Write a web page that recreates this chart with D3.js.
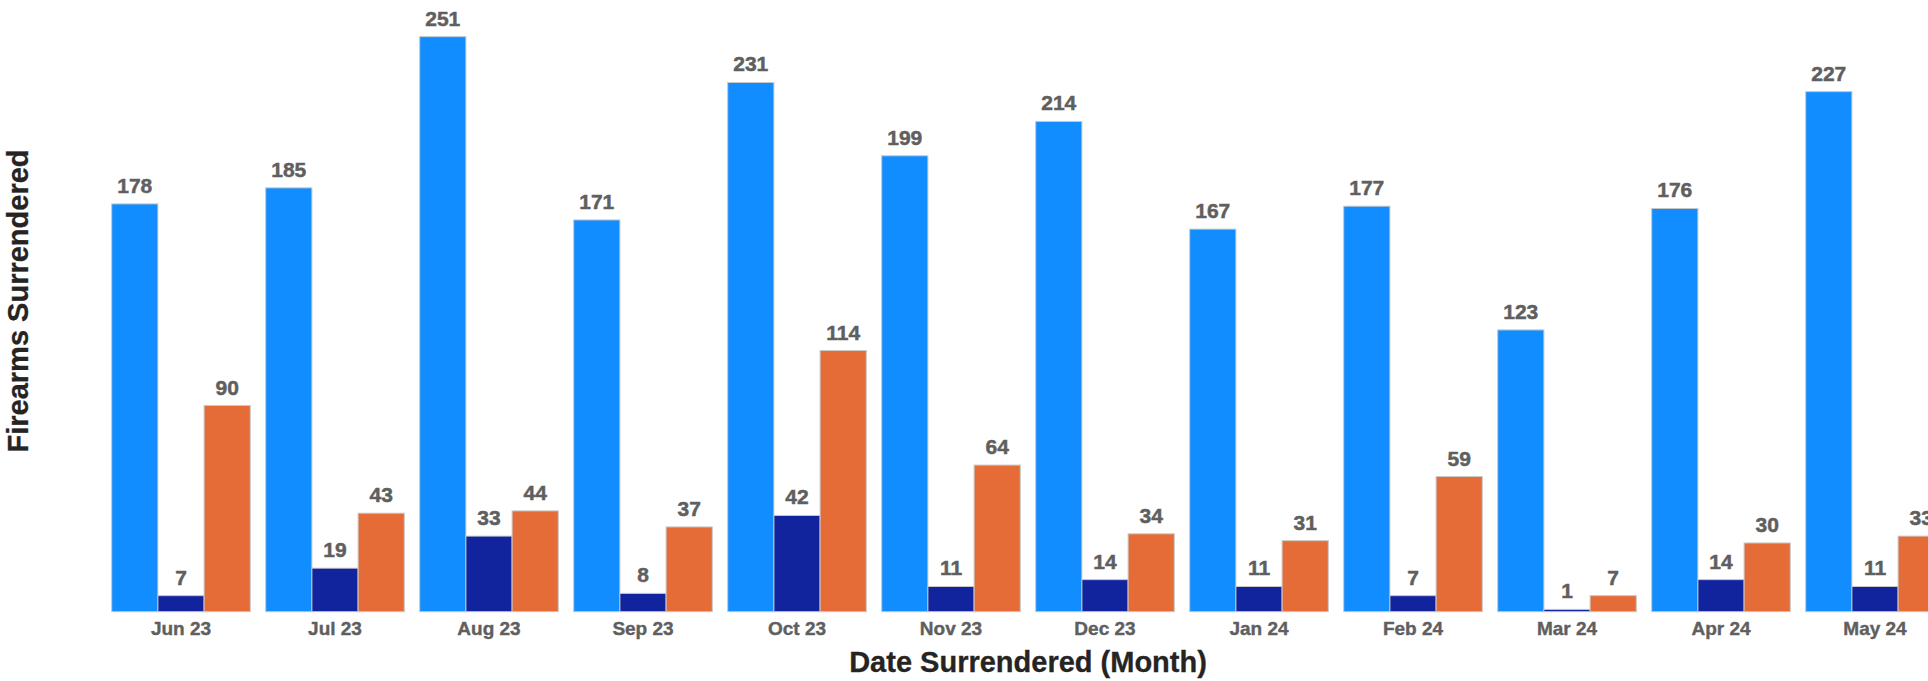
<!DOCTYPE html>
<html>
<head>
<meta charset="utf-8">
<script src="https://cdn.jsdelivr.net/npm/d3@7"></script>
<style>
  html, body { margin: 0; padding: 0; background: #ffffff; overflow: hidden; }
  svg { display: block; }
  text { font-family: "Liberation Sans", Arial, sans-serif; font-weight: bold; }
</style>
</head>
<body>
<svg id="chart" width="1928" height="681"></svg>
<script>
// ---- data ----
const months = ["Jun 23","Jul 23","Aug 23","Sep 23","Oct 23","Nov 23","Dec 23","Jan 24","Feb 24","Mar 24","Apr 24","May 24"];
const seriesNames = ["Series A","Series B","Series C"];
const seriesA = [178,185,251,171,231,199,214,167,177,123,176,227];
const seriesB = [7,19,33,8,42,11,14,11,7,1,14,11];
const seriesC = [90,43,44,37,114,64,34,31,59,7,30,33];
const colors = ["#118DFF","#12239E","#E66C37"];

const svg = d3.select("#chart");
const baseY = 611.7;

const rows = months.map((m, i) => ({ month: m, values: [seriesA[i], seriesB[i], seriesC[i]] }));

const x = d3.scaleBand().domain(months).range([104, 1952]).paddingInner(0.1).paddingOuter(0.05);
const xs = d3.scaleBand().domain(seriesNames).range([0, x.bandwidth()]).padding(0);
const y = d3.scaleLinear().domain([0, 267]).range([baseY, 0]);

const g = svg.append("g");

const groups = g.selectAll("g.grp").data(rows).join("g")
  .attr("class", "grp")
  .attr("transform", d => `translate(${x(d.month)},0)`);

groups.selectAll("rect").data(d => d.values.map((v, i) => ({ v, i }))).join("rect")
  .attr("x", d => xs(seriesNames[d.i]))
  .attr("y", d => y(d.v))
  .attr("width", xs.bandwidth())
  .attr("height", d => baseY - y(d.v))
  .attr("fill", d => colors[d.i])
  .attr("stroke", "#c8c8c8")
  .attr("stroke-width", 1);

groups.selectAll("text.val").data(d => d.values.map((v, i) => ({ v, i }))).join("text")
  .attr("class", "val")
  .attr("x", d => xs(seriesNames[d.i]) + xs.bandwidth() / 2)
  .attr("y", d => y(d.v) - 11)
  .attr("text-anchor", "middle")
  .attr("font-size", 21)
  .attr("fill", "#5f5f5f")
  .attr("stroke", "#5f5f5f")
  .attr("stroke-width", 0.5)
  .text(d => d.v);

// x axis (labels only)
const xAxis = d3.axisBottom(x).tickSize(0).tickPadding(0);
const ax = g.append("g").attr("transform", `translate(0,${baseY})`).call(xAxis);
ax.select(".domain").remove();
ax.selectAll("text")
  .attr("dy", null)
  .attr("y", 23)
  .attr("font-size", 19)
  .attr("font-family", "Liberation Sans, Arial, sans-serif")
  .attr("font-weight", "bold")
  .attr("fill", "#5f5f5f")
  .attr("stroke", "#5f5f5f")
  .attr("stroke-width", 0.4);

// axis titles
svg.append("text")
  .attr("x", (x.range()[0] + x.range()[1]) / 2)
  .attr("y", 672)
  .attr("text-anchor", "middle")
  .attr("font-size", 29)
  .attr("fill", "#252423")
  .attr("stroke", "#252423")
  .attr("stroke-width", 0.3)
  .text("Date Surrendered (Month)");

svg.append("text")
  .attr("transform", "translate(17.5,301) rotate(-90)")
  .attr("text-anchor", "middle")
  .attr("dominant-baseline", "central")
  .attr("font-size", 29)
  .attr("fill", "#252423")
  .attr("stroke", "#252423")
  .attr("stroke-width", 0.3)
  .text("Firearms Surrendered");
</script>
</body>
</html>
